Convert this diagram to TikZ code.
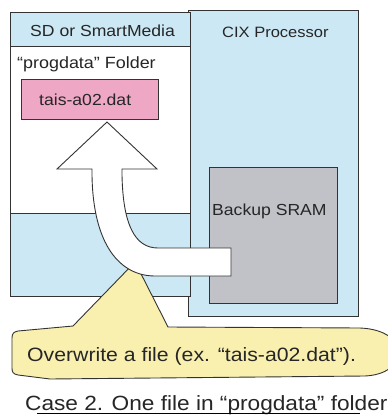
\documentclass[tikz,border=0pt]{standalone}
\usepackage{fontspec}
\setmainfont{Liberation Sans}[FakeStretch=1.1]
\definecolor{lblue}{HTML}{CCE8F4}
\definecolor{pinkf}{HTML}{EFA7C6}
\definecolor{grayf}{HTML}{C0C2C8}
\definecolor{yellowf}{HTML}{F9F0B0}
\definecolor{edge}{HTML}{333333}
\definecolor{txt}{HTML}{262626}
\tikzset{
  box/.style={draw=edge, line width=0.9pt},
  lbl/.style={anchor=base west, inner sep=0pt, text=txt},
}
\begin{document}
\begin{tikzpicture}[x=1pt,y=-1pt]
\useasboundingbox (0,0) rectangle (388,415);
\clip (0,0) rectangle (388,415);
% CIX processor
\fill[white] (0,0) rectangle (388,415);
\draw[box, fill=lblue] (188,10) rectangle (358,316);
% SD card
\draw[box, fill=lblue] (10,12) rectangle (190,296);
\draw[box, fill=white] (10,46) rectangle (190,213);
% file
\draw[box, fill=pinkf] (21,79) rectangle (158,119);
% backup SRAM
\draw[box, fill=grayf] (209,167) rectangle (337,303);
% callout
\draw[box, fill=yellowf, line join=round]
  (12,338) .. controls (12,333) and (14,332) .. (18,331)
  -- (73,326) -- (135,262) -- (168,327) -- (360,328)
  .. controls (385,329) and (398,340) .. (398,352)
  .. controls (398,366) and (385,375) .. (365,376)
  -- (50,379) -- (18,375)
  .. controls (13,374) and (12,372) .. (12,368) -- cycle;
% arrow
\draw[box, fill=white, line join=miter]
  (107,122) -- (157,169) -- (122,169) -- (122,175)
  .. controls (123,225) and (135,248) .. (158,248)
  -- (231,248) -- (231,276) -- (155,276)
  .. controls (120,276) and (93,245) .. (92,175)
  -- (92,169) -- (57,169) -- cycle;
% texts
\node[lbl, font=\fontsize{16}{19}\selectfont] (sd) at (30,36) {SD or SmartMedia};
\node[lbl, font=\fontsize{15}{18}\selectfont] (cix) at (222,37) {CIX Processor};
\node[lbl, font=\fontsize{16.3}{19}\selectfont] (folder) at (17,68) {“progdata” Folder};
\node[lbl, font=\fontsize{16}{19}\selectfont] (file) at (39,105) {tais-a02.dat};
\node[lbl, font=\fontsize{16}{19}\selectfont] (sram) at (212,215.5) {Backup SRAM};
\node[lbl, font=\fontsize{19.3}{23}\selectfont] (note) at (27,361) {Overwrite a file (ex. “tais-a02.dat”).};
\node[lbl, font=\fontsize{20.6}{25}\selectfont] (cap) at (25,410) {Case 2. One file in “progdata” folder};
\coordinate (ulA) at (37,413.5);
\coordinate (ulB) at (360,413.5);
\draw[line width=1pt, black] (ulA) -- (ulB);
\end{tikzpicture}
\end{document}
